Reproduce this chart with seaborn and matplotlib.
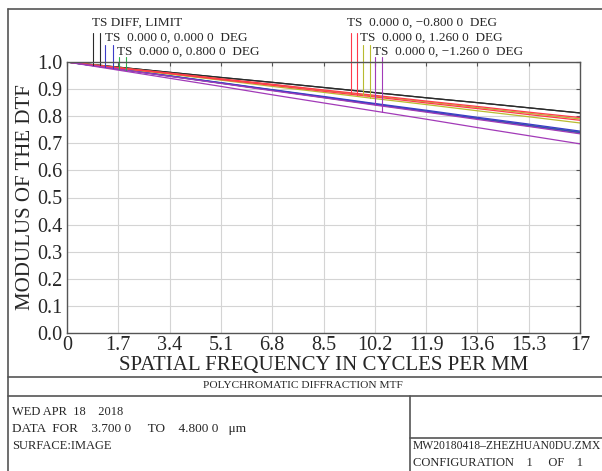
import numpy as np
import pandas as pd
import matplotlib
matplotlib.use("Agg")
import matplotlib.pyplot as plt
from matplotlib.lines import Line2D
import seaborn as sns

# chart data
freq = [0, 1.7, 3.4, 5.1, 6.8, 8.5, 10.2, 11.9, 13.6, 15.3, 17]
freq_labels = ["0", "1.7", "3.4", "5.1", "6.8", "8.5", "10.2", "11.9", "13.6", "15.3", "17"]
mtf_labels = ["0.0", "0.1", "0.2", "0.3", "0.4", "0.5", "0.6", "0.7", "0.8", "0.9", "1.0"]

diff_t = [1.000, 0.981, 0.962, 0.943, 0.925, 0.906, 0.887, 0.868, 0.850, 0.831, 0.812]
diff_s = [1.000, 0.981, 0.962, 0.943, 0.925, 0.906, 0.887, 0.868, 0.850, 0.831, 0.812]
f00_t = [1.000, 0.975, 0.949, 0.924, 0.898, 0.873, 0.847, 0.822, 0.796, 0.771, 0.745]
f00_s = [1.000, 0.974, 0.948, 0.922, 0.896, 0.870, 0.844, 0.818, 0.792, 0.766, 0.740]
f08_t = [1.000, 0.974, 0.949, 0.923, 0.897, 0.871, 0.845, 0.819, 0.793, 0.768, 0.742]
f08_s = [1.000, 0.974, 0.948, 0.922, 0.896, 0.869, 0.843, 0.817, 0.791, 0.764, 0.738]
fm08_t = [1.000, 0.979, 0.959, 0.938, 0.918, 0.897, 0.877, 0.856, 0.836, 0.815, 0.795]
fm08_s = [1.000, 0.978, 0.957, 0.935, 0.914, 0.892, 0.871, 0.849, 0.828, 0.806, 0.785]
f126_t = [1.000, 0.979, 0.958, 0.937, 0.916, 0.895, 0.874, 0.853, 0.832, 0.811, 0.790]
f126_s = [1.000, 0.978, 0.955, 0.933, 0.910, 0.888, 0.865, 0.843, 0.820, 0.798, 0.775]
fm126_t = [1.000, 0.974, 0.947, 0.921, 0.894, 0.868, 0.841, 0.815, 0.788, 0.762, 0.735]
fm126_s = [1.000, 0.970, 0.940, 0.910, 0.879, 0.849, 0.819, 0.789, 0.758, 0.728, 0.698]

series = {
    "DIFF T": diff_t, "DIFF S": diff_s,
    "0.8 T": f08_t, "0.8 S": f08_s,
    "0.0 T": f00_t, "0.0 S": f00_s,
    "1.26 T": f126_t, "1.26 S": f126_s,
    "-0.8 T": fm08_t, "-0.8 S": fm08_s,
    "-1.26 T": fm126_t, "-1.26 S": fm126_s,
}
colors = {
    "DIFF": "#2b2b2b", "0.0": "#3c3cc8", "0.8": "#2fb04a",
    "-0.8": "#ff3a4a", "1.26": "#b8bb30", "-1.26": "#a23ab8",
}

rows = []
for name, vals in series.items():
    for f, v in zip(freq, vals):
        rows.append({"freq": f, "mtf": v, "curve": name})
df = pd.DataFrame(rows)
palette = {name: colors[name.split()[0]] for name in series}

sns.set_style("white")
plt.rcParams["font.family"] = ["Liberation Serif", "DejaVu Serif"]

W, H = 602, 471
fig = plt.figure(figsize=(W / 100, H / 100), dpi=100)


def fx(x):
    return x / W


def fy(y):
    return 1 - y / H


# axes box in pixels: left 67, right 580, top 62, bottom 333
ax = fig.add_axes([fx(67), fy(333), (580 - 67) / W, (333 - 62) / H])
sns.lineplot(data=df, x="freq", y="mtf", hue="curve", hue_order=list(series),
             palette=palette, estimator=None, units="curve", lw=0.9,
             legend=False, ax=ax)

ax.set_xlim(0, 17)
ax.set_ylim(0, 1)
ax.set_xticks(freq)
ax.set_xticklabels(freq_labels)
ax.set_yticks(np.round(np.arange(0, 1.01, 0.1), 1))
ax.set_yticklabels(mtf_labels)
ax.grid(True, color="#d4d4d4", lw=0.8)
ax.tick_params(direction="in", length=3, color="#555555", top=True, right=True,
               labelsize=14.5)
ax.tick_params(axis="x", pad=2)
ax.tick_params(axis="y", pad=3.5)
for sp in ax.spines.values():
    sp.set_color("#555555")
    sp.set_linewidth(1.0)
ax.set_xlabel("SPATIAL FREQUENCY IN CYCLES PER MM", fontsize=15)
ax.xaxis.set_label_coords(0.5, -(356 - 333) / (333 - 62))
ax.set_ylabel("MODULUS OF THE DTF", fontsize=15, labelpad=1)

# legend markers: short vertical lines dropping onto each curve
def px_to_freq(x):
    return (x - 67) / (580 - 67) * 17


def py_to_mtf(y):
    return (333 - y) / (333 - 62)


marks = [
    (93, 33, diff_t, "DIFF"), (100, 33, diff_s, "DIFF"),
    (105, 45, f00_t, "0.0"), (113, 45, f00_s, "0.0"),
    (119, 57, f08_t, "0.8"), (126, 57, f08_s, "0.8"),
    (351, 33, fm08_t, "-0.8"), (357, 33, fm08_s, "-0.8"),
    (363, 45, f126_t, "1.26"), (370, 45, f126_s, "1.26"),
    (375, 57, fm126_t, "-1.26"), (382, 57, fm126_s, "-1.26"),
]
for xp, ytop, vals, key in marks:
    f = px_to_freq(xp)
    ax.plot([f, f], [np.interp(f, freq, vals), py_to_mtf(ytop)],
            color=colors[key], lw=0.8, clip_on=False)

labels = [
    (92, 23, "TS DIFF, LIMIT"),
    (105, 38, "TS  0.000 0, 0.000 0  DEG"),
    (117, 52, "TS  0.000 0, 0.800 0  DEG"),
    (347, 23, "TS  0.000 0, \u22120.800 0  DEG"),
    (360, 38, "TS  0.000 0, 1.260 0  DEG"),
    (373, 52, "TS  0.000 0, \u22121.260 0  DEG"),
]
for xp, yp, txt in labels:
    fig.text(fx(xp), fy(yp), txt, fontsize=9.5, va="center", ha="left")

# frame lines
frame = [
    ((8, 9), (602, 9)), ((8, 9), (8, 471)),
    ((8, 377), (602, 377)), ((8, 396), (602, 396)),
    ((410, 396), (410, 471)), ((410, 438), (602, 438)),
]
for (x0, y0), (x1, y1) in frame:
    fig.add_artist(Line2D([fx(x0), fx(x1)], [fy(y0), fy(y1)],
                          color="#555555", lw=1.2))

fig.text(fx(303), fy(386), "POLYCHROMATIC DIFFRACTION MTF", fontsize=8.2,
         ha="center", va="center")
fig.text(fx(12), fy(412), "WED APR  18    2018", fontsize=9, va="center")
fig.text(fx(12), fy(429), "DATA  FOR    3.700 0     TO    4.800 0   \u03bcm",
         fontsize=9.5, va="center")
fig.text(fx(12), fy(446), "SURFACE:IMAGE", fontsize=9, va="center")
fig.text(fx(413), fy(446), "MW20180418\u2013ZHEZHUAN0DU.ZMX", fontsize=8.4,
         va="center")
fig.text(fx(413), fy(463), "CONFIGURATION    1     OF    1", fontsize=9,
         va="center")

fig.savefig("out.png", dpi=100)
